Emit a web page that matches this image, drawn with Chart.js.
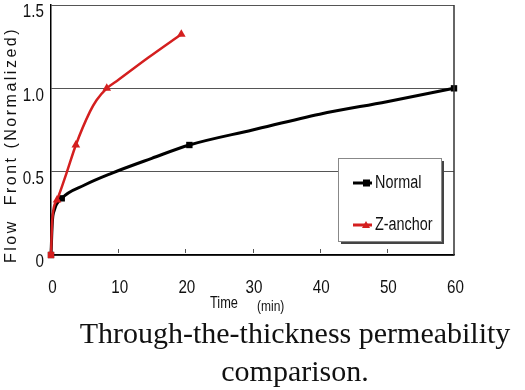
<!DOCTYPE html>
<html>
<head>
<meta charset="utf-8">
<script src="https://cdn.jsdelivr.net/npm/chart.js@4"></script>
<style>
html, body { margin: 0; padding: 0; background: #fff; overflow: hidden; }
#wrap { position: relative; width: 525px; height: 390px; }
#caption {
    position: absolute; left: 60px; width: 470px; top: 314px;
    text-align: center; color: #111;
    font: 30px/38px "Liberation Serif", "Times New Roman", serif;
}
</style>
</head>
<body>
<div id="wrap">
    <canvas id="chart" width="525" height="390"></canvas>
    <div id="caption">Through-the-thickness permeability<br>comparison.</div>
</div>
<script>
// Measured points (markers)
const normalTime = [0, 1.6, 20.6, 60];
const normalFront = [0, 0.34, 0.66, 1.0];
const zAnchorTime = [0, 0.9, 3.7, 8.3, 19.4];
const zAnchorFront = [0, 0.33, 0.66, 1.0, 1.325];

// Traced curves between the markers
const normalCurveTime = [0, 0.2, 0.5, 1.6, 5, 9, 15, 20.6, 30, 40, 50, 60];
const normalCurveFront = [0, 0.2, 0.27, 0.34, 0.42, 0.49, 0.58, 0.66, 0.75, 0.845, 0.92, 1.0];
const zAnchorCurveTime = [0, 0.2, 0.9, 2.3, 3.7, 5.8, 6.8, 8.3, 10, 14.5, 19.4];
const zAnchorCurveFront = [0, 0.22, 0.33, 0.49, 0.66, 0.86, 0.93, 1.0, 1.05, 1.185, 1.325];

// Axis ticks
const xTicks = [0, 10, 20, 30, 40, 50, 60];
const yTicks = [0, 0.5, 1.0, 1.5];
const yTickLabels = ['0', '0.5', '1.0', '1.5'];

const seriesNames = ['Normal', 'Z-anchor'];
const RED = '#d41f1f';
const SANS = 'Arial, "Liberation Sans", sans-serif';

function toPoints(xs, ys) {
    return xs.map((x, i) => ({ x: x, y: ys[i] }));
}

// Arial squeezed horizontally, to look like the condensed face of the original
function narrowText(ctx, text, x, y, size, align) {
    ctx.save();
    ctx.translate(x, y);
    ctx.scale(0.8, 1);
    ctx.font = size + 'px ' + SANS;
    ctx.textAlign = align;
    ctx.textBaseline = 'middle';
    ctx.fillText(text, 0, 0);
    ctx.restore();
}

// Extra drawing: frame, tick labels, inner ticks, axis titles, legend box
const decorPlugin = {
    id: 'decor',
    afterDraw(chart) {
        const ctx = chart.ctx;
        const area = chart.chartArea;
        const xs = chart.scales.x;
        const ys = chart.scales.y;
        ctx.save();

        // right frame
        ctx.strokeStyle = '#333';
        ctx.lineWidth = 1.5;
        ctx.beginPath();
        ctx.moveTo(area.right, area.top);
        ctx.lineTo(area.right, area.bottom);
        ctx.stroke();

        // small inside ticks on the time axis
        ctx.strokeStyle = '#555';
        ctx.lineWidth = 1;
        xTicks.slice(1, -1).forEach(t => {
            const px = Math.round(xs.getPixelForValue(t)) + 0.5;
            ctx.beginPath();
            ctx.moveTo(px, area.bottom - 6);
            ctx.lineTo(px, area.bottom - 2);
            ctx.stroke();
        });

        // tick labels
        ctx.fillStyle = '#111';
        xTicks.forEach(t => {
            narrowText(ctx, String(t), xs.getPixelForValue(t) + 1.5, area.bottom + 33, 19, 'center');
        });
        yTicks.forEach((t, i) => {
            narrowText(ctx, yTickLabels[i], area.left - 7, ys.getPixelForValue(t) + 7, 19, 'right');
        });

        // y title
        ctx.save();
        ctx.translate(12, 145);
        ctx.rotate(-Math.PI / 2);
        ctx.font = '16px ' + SANS;
        ctx.letterSpacing = '2.5px';
        ctx.textAlign = 'center';
        ctx.textBaseline = 'middle';
        ctx.fillText('Flow  Front (Normalized)', 0, 0);
        ctx.restore();

        // x title
        narrowText(ctx, 'Time', 210, 304, 16, 'left');
        narrowText(ctx, '(min)', 257, 307, 15, 'left');

        // legend box
        const lx = 338, ly = 158, lw = 103, lh = 83;
        ctx.fillStyle = '#444';
        ctx.fillRect(lx + 3, ly + 3, lw, lh);
        ctx.fillStyle = '#fff';
        ctx.fillRect(lx, ly, lw, lh);
        ctx.strokeStyle = '#888';
        ctx.lineWidth = 1;
        ctx.strokeRect(lx + 0.5, ly + 0.5, lw, lh);

        const rows = [
            { y: 183, color: '#000' },
            { y: 225, color: RED }
        ];
        rows.forEach((r, i) => {
            ctx.strokeStyle = r.color;
            ctx.fillStyle = r.color;
            ctx.lineWidth = 3;
            ctx.beginPath();
            ctx.moveTo(353, r.y);
            ctx.lineTo(372, r.y);
            ctx.stroke();
            if (i === 0) {
                ctx.fillRect(363, r.y - 3.5, 7, 7);
            } else {
                ctx.beginPath();
                ctx.moveTo(366, r.y - 4);
                ctx.lineTo(370, r.y + 3);
                ctx.lineTo(362, r.y + 3);
                ctx.closePath();
                ctx.fill();
            }
            ctx.fillStyle = '#111';
            narrowText(ctx, seriesNames[i], 375, r.y, 18, 'left');
        });

        ctx.restore();
    }
};

const chart = new Chart(document.getElementById('chart'), {
    type: 'scatter',
    data: {
        datasets: [
            {
                label: seriesNames[1] + ' curve',
                data: toPoints(zAnchorCurveTime, zAnchorCurveFront),
                showLine: true,
                borderColor: RED,
                borderWidth: 2.5,
                pointRadius: 0,
                cubicInterpolationMode: 'monotone',
                clip: false,
                order: 1
            },
            {
                label: seriesNames[1],
                data: toPoints(zAnchorTime, zAnchorFront),
                showLine: false,
                pointStyle: ['rect', 'triangle', 'triangle', 'triangle', 'triangle'],
                pointRadius: [4.5, 5, 5, 5, 5],
                backgroundColor: RED,
                borderColor: RED,
                borderWidth: 0,
                clip: false,
                order: 0
            },
            {
                label: seriesNames[0] + ' curve',
                data: toPoints(normalCurveTime, normalCurveFront),
                showLine: true,
                borderColor: '#000',
                borderWidth: 3,
                pointRadius: 0,
                cubicInterpolationMode: 'monotone',
                clip: false,
                order: 3
            },
            {
                label: seriesNames[0],
                data: toPoints(normalTime, normalFront),
                showLine: false,
                pointStyle: 'rect',
                pointRadius: 4.5,
                backgroundColor: '#000',
                borderColor: '#000',
                borderWidth: 0,
                clip: false,
                order: 2
            }
        ]
    },
    options: {
        responsive: false,
        animation: false,
        events: [],
        layout: { padding: { top: 4, right: 71, left: 0, bottom: 0 } },
        plugins: {
            legend: { display: false },
            tooltip: { enabled: false }
        },
        scales: {
            x: {
                type: 'linear',
                min: 0,
                max: 60,
                afterFit: s => {
                    s.height = 135;
                    s.paddingLeft = 0;
                    s.paddingRight = 0;
                },
                afterBuildTicks: s => { s.ticks = xTicks.map(v => ({ value: v })); },
                grid: { display: false, drawTicks: false },
                border: { display: true, color: '#000', width: 1.5 },
                ticks: { display: false }
            },
            y: {
                min: 0,
                max: 1.5,
                afterFit: s => {
                    s.width = 51;
                    s.paddingTop = 0;
                    s.paddingBottom = 0;
                },
                afterBuildTicks: s => { s.ticks = yTicks.map(v => ({ value: v })); },
                grid: { color: '#555', lineWidth: 1, drawTicks: false },
                border: { display: true, color: '#000', width: 1.5 },
                ticks: { display: false }
            }
        }
    },
    plugins: [decorPlugin]
});
</script>
</body>
</html>
